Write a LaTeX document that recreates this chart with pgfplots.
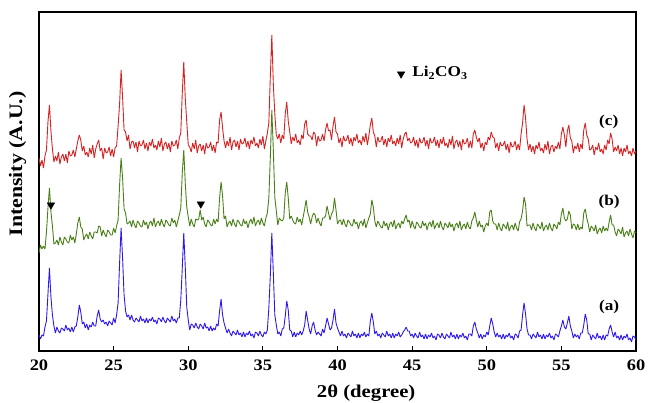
\documentclass[border=0pt]{standalone}
\usepackage{fontspec}
\setmainfont{Liberation Serif}[FakeStretch=1.15]
\usepackage{pgfplots}
\pgfplotsset{compat=1.18}
\usepackage{pgfplotstable}
\definecolor{cA}{RGB}{45,25,235}
\definecolor{cB}{RGB}{75,128,25}
\definecolor{cC}{RGB}{213,35,35}
\pgfplotstableread{
x a b c
20.0 16 98 193
20.1 12 106 185
20.2 16 102 191
20.3 15 105 183
20.4 24 102 195
20.5 30 119 201
20.6 57 143 229
20.7 83 163 246
20.8 54 139 220
20.9 36 125 202
21.0 25 107 189
21.1 18 108 195
21.2 24 111 190
21.3 20 106 199
21.4 18 114 187
21.5 23 109 194
21.6 22 106 197
21.7 20 114 190
21.8 26 112 197
21.9 21 109 188
22.0 23 108 200
22.1 19 116 195
22.2 24 111 196
22.3 19 114 201
22.4 24 108 194
22.5 25 117 202
22.6 34 128 210
22.7 46 134 216
22.8 39 124 211
22.9 27 122 200
23.0 29 111 205
23.1 23 115 196
23.2 27 117 199
23.3 21 112 194
23.4 26 119 203
23.5 24 115 197
23.6 29 112 206
23.7 25 119 193
23.8 25 119 202
23.9 35 118 207
24.0 41 125 211
24.1 32 124 200
24.2 29 115 203
24.3 31 121 192
24.4 27 117 203
24.5 29 114 198
24.6 25 121 199
24.7 30 119 204
24.8 28 116 195
24.9 26 116 202
25.0 33 123 194
25.1 28 118 203
25.2 36 125 205
25.3 48 131 225
25.4 88 166 247
25.5 123 193 281
25.6 93 173 254
25.7 56 142 221
25.8 40 138 219
25.9 34 127 210
26.0 36 128 216
26.1 31 130 202
26.2 36 124 209
26.3 31 131 210
26.4 29 126 203
26.5 33 123 209
26.6 31 130 199
26.7 29 128 210
26.8 35 125 205
26.9 30 124 206
27.0 32 131 211
27.1 28 126 202
27.2 33 129 208
27.3 28 122 200
27.4 32 128 209
27.5 30 130 205
27.6 34 125 212
27.7 29 133 203
27.8 31 124 206
27.9 27 128 201
28.0 33 130 210
28.1 32 125 204
28.2 29 132 213
28.3 34 127 200
28.4 30 124 207
28.5 28 131 209
28.6 33 129 202
28.7 31 126 208
28.8 29 125 199
28.9 35 133 210
29.0 30 128 205
29.1 32 131 206
29.2 28 124 211
29.3 33 130 202
29.4 33 136 213
29.5 51 143 218
29.6 83 178 258
29.7 118 201 289
29.8 84 168 253
29.9 44 144 229
30.0 31 134 206
30.1 21 125 204
30.2 27 132 199
30.3 26 127 208
30.4 23 124 202
30.5 28 132 211
30.6 24 131 198
30.7 22 132 205
30.8 27 141 207
30.9 25 131 200
31.0 22 134 206
31.1 28 127 197
31.2 23 124 208
31.3 24 131 203
31.4 20 129 204
31.5 25 126 209
31.6 20 125 200
31.7 23 132 206
31.8 21 127 198
31.9 27 132 209
32.0 25 129 208
32.1 40 153 231
32.2 52 169 239
32.3 36 155 223
32.4 28 132 210
32.5 23 135 203
32.6 18 124 210
32.7 22 128 205
32.8 18 130 214
32.9 15 125 201
33.0 20 132 209
33.1 18 127 211
33.2 16 124 204
33.3 21 131 210
33.4 16 129 201
33.5 18 126 212
33.6 14 125 207
33.7 19 132 208
33.8 14 127 213
33.9 18 130 204
34.0 16 123 210
34.1 20 129 202
34.2 15 132 211
34.3 17 127 207
34.4 13 134 214
34.5 19 125 205
34.6 18 129 208
34.7 15 131 203
34.8 20 126 212
34.9 16 133 206
35.0 14 128 215
35.1 19 125 202
35.2 17 133 210
35.3 21 138 218
35.4 43 153 228
35.5 76 194 275
35.6 118 241 316
35.7 78 201 267
35.8 36 154 237
35.9 26 140 216
36.0 17 126 212
36.1 19 133 217
36.2 15 131 208
36.3 22 130 216
36.4 23 133 212
36.5 35 158 237
36.6 50 169 249
36.7 41 153 230
36.8 21 132 219
36.9 20 135 207
37.0 14 131 214
37.1 19 128 210
37.2 14 127 217
37.3 18 134 208
37.4 16 129 211
37.5 20 132 206
37.6 16 126 216
37.7 20 134 212
37.8 26 142 227
37.9 40 151 231
38.0 31 139 217
38.1 22 134 215
38.2 17 127 215
38.3 25 134 211
38.4 29 138 219
38.5 21 136 217
38.6 16 128 205
38.7 19 133 215
38.8 17 128 210
38.9 15 125 211
39.0 22 133 217
39.1 18 133 210
39.2 25 135 221
39.3 33 145 228
39.4 27 138 220
39.5 21 131 221
39.6 23 137 211
39.7 31 140 225
39.8 42 153 234
39.9 28 141 219
40.0 23 127 217
40.1 19 130 208
40.2 15 131 213
40.3 20 126 204
40.4 15 132 215
40.5 17 127 210
40.6 13 124 211
40.7 18 131 216
40.8 16 129 207
40.9 14 126 213
41.0 20 125 205
41.1 15 132 214
41.2 17 127 210
41.3 13 129 217
41.4 18 122 208
41.5 13 128 211
41.6 17 130 206
41.7 15 125 215
41.8 19 132 209
41.9 14 123 218
42.0 17 128 206
42.1 15 133 215
42.2 30 137 226
42.3 38 151 233
42.4 29 144 219
42.5 17 130 215
42.6 20 124 204
42.7 15 130 214
42.8 17 127 209
42.9 13 124 210
43.0 18 123 215
43.1 16 130 206
43.2 14 125 212
43.3 20 128 204
43.4 15 121 213
43.5 17 127 209
43.6 13 129 216
43.7 18 124 207
43.8 13 131 210
43.9 17 122 205
44.0 15 126 213
44.1 19 128 207
44.2 14 123 216
44.3 16 130 203
44.4 19 127 212
44.5 21 132 217
44.6 24 136 219
44.7 20 129 210
44.8 20 131 213
44.9 15 123 208
45.0 17 130 209
45.1 13 125 214
45.2 18 122 205
45.3 15 129 211
45.4 13 127 203
45.5 19 124 213
45.6 14 123 208
45.7 16 130 209
45.8 12 125 214
45.9 17 128 205
46.0 12 121 211
46.1 16 127 202
46.2 14 129 213
46.3 18 124 208
46.4 13 131 209
46.5 15 122 214
46.6 11 126 205
46.7 17 128 211
46.8 16 123 203
46.9 13 130 212
47.0 18 124 207
47.1 14 121 214
47.2 12 128 205
47.3 17 126 208
47.4 15 123 203
47.5 13 129 212
47.6 19 124 206
47.7 14 127 215
47.8 16 120 202
47.9 12 126 209
48.0 17 128 211
48.1 12 123 204
48.2 16 130 210
48.3 14 121 201
48.4 18 125 212
48.5 13 127 207
48.6 15 122 208
48.7 11 129 213
48.8 17 124 203
48.9 17 122 210
49.0 15 130 203
49.1 25 133 217
49.2 29 139 221
49.3 22 131 214
49.4 18 124 209
49.5 13 130 213
49.6 17 124 203
49.7 12 126 208
49.8 16 119 200
49.9 14 125 209
50.0 19 128 206
50.1 16 125 214
50.2 25 139 211
50.3 33 141 219
50.4 27 130 214
50.5 19 127 213
50.6 14 127 203
50.7 18 121 208
50.8 14 128 200
50.9 16 123 209
51.0 12 120 205
51.1 17 127 206
51.2 12 125 210
51.3 16 122 201
51.4 14 129 207
51.5 18 120 198
51.6 13 124 209
51.7 15 126 204
51.8 11 121 205
51.9 17 128 210
52.0 16 123 201
52.1 13 120 207
52.2 20 129 201
52.3 21 132 217
52.4 36 140 228
52.5 48 154 246
52.6 37 147 233
52.7 22 125 212
52.8 16 126 201
52.9 16 126 207
53.0 12 121 199
53.1 17 128 205
53.2 15 123 197
53.3 13 120 206
53.4 19 127 202
53.5 14 125 209
53.6 16 122 200
53.7 12 129 203
53.8 17 120 198
53.9 12 124 207
54.0 16 126 201
54.1 14 121 210
54.2 18 128 197
54.3 13 123 204
54.4 15 120 206
54.5 11 127 199
54.6 17 125 205
54.7 16 122 202
54.8 14 129 209
54.9 20 126 202
55.0 25 137 217
55.1 31 143 224
55.2 24 133 216
55.3 22 130 204
55.4 28 132 220
55.5 35 140 226
55.6 25 136 213
55.7 20 122 210
55.8 13 127 198
55.9 17 126 205
56.0 14 121 202
56.1 16 127 208
56.2 12 121 199
56.3 18 124 207
56.4 18 122 202
56.5 26 138 221
56.6 37 142 228
56.7 31 133 216
56.8 17 127 212
56.9 17 119 201
57.0 11 125 202
57.1 16 123 206
57.2 14 120 196
57.3 12 126 204
57.4 18 117 201
57.5 13 121 208
57.6 15 123 199
57.7 11 118 202
57.8 16 125 197
57.9 11 120 206
58.0 16 123 201
58.1 15 120 211
58.2 22 129 207
58.3 26 136 218
58.4 19 126 212
58.5 14 126 199
58.6 19 119 204
58.7 13 115 200
58.8 15 122 206
58.9 11 120 197
59.0 16 117 203
59.1 11 124 195
59.2 15 114 203
59.3 13 118 199
59.4 17 120 206
59.5 11 115 197
59.6 13 122 200
59.7 9 117 195
59.8 15 113 203
59.9 14 120 197
60.0 11 118 200
}\xrd
\begin{document}
\begin{tikzpicture}
\begin{axis}[
  name=ax, at={(0,0)}, anchor=south west,
  scale only axis, width=597pt, height=339pt,
  xmin=20, xmax=60, ymin=0, ymax=339,
  ytick=\empty,
  xtick={20,25,...,60},
  tick align=inside, xtick pos=bottom,
  major tick length=5pt,
  tick style={line width=1pt, black},
  axis line style={line width=1.5pt},
  every outer x axis line/.append style={line width=1.5pt},
  every outer y axis line/.append style={line width=1.5pt},
  /pgf/number format/assume math mode=true,
  xticklabel style={font=\fontsize{16}{16}\selectfont\bfseries, yshift=-5pt},
  xlabel={2θ (degree)},
  xlabel style={at={(axis description cs:0.548,-0.124)}, anchor=center, font=\fontsize{18}{18}\selectfont\bfseries},
  ylabel={Intensity (A.U.)},
  ylabel style={at={(axis description cs:-0.036,0.552)}, anchor=center, font=\fontsize{19}{19}\selectfont\bfseries},
]
\addplot[cA, line width=0.9pt, line join=bevel] table[x=x, y=a] {\xrd};
\addplot[cB, line width=0.9pt, line join=bevel] table[x=x, y=b] {\xrd};
\addplot[cC, line width=0.9pt, line join=bevel] table[x=x, y=c] {\xrd};
\addplot[only marks, mark=triangle*, mark size=4.3pt, mark options={rotate=180, fill=black, draw=black}] coordinates {(20.8,146) (30.84,147) (44.26,277)};
\node[anchor=base west, font=\fontsize{15}{15}\selectfont\bfseries, inner sep=0pt] at (axis cs:45.0,274) {Li\textsubscript{2}CO\textsubscript{3}};
\node[font=\fontsize{15}{15}\selectfont\bfseries] at (axis cs:58.17,229) {(c)};
\node[font=\fontsize{15}{15}\selectfont\bfseries] at (axis cs:58.2,149) {(b)};
\node[font=\fontsize{15}{15}\selectfont\bfseries] at (axis cs:58.2,44) {(a)};
\end{axis}
\pgfresetboundingbox
\path (ax.south west) ++(-39pt,-52pt) rectangle ++(648pt,403pt);
\end{tikzpicture}
\end{document}
